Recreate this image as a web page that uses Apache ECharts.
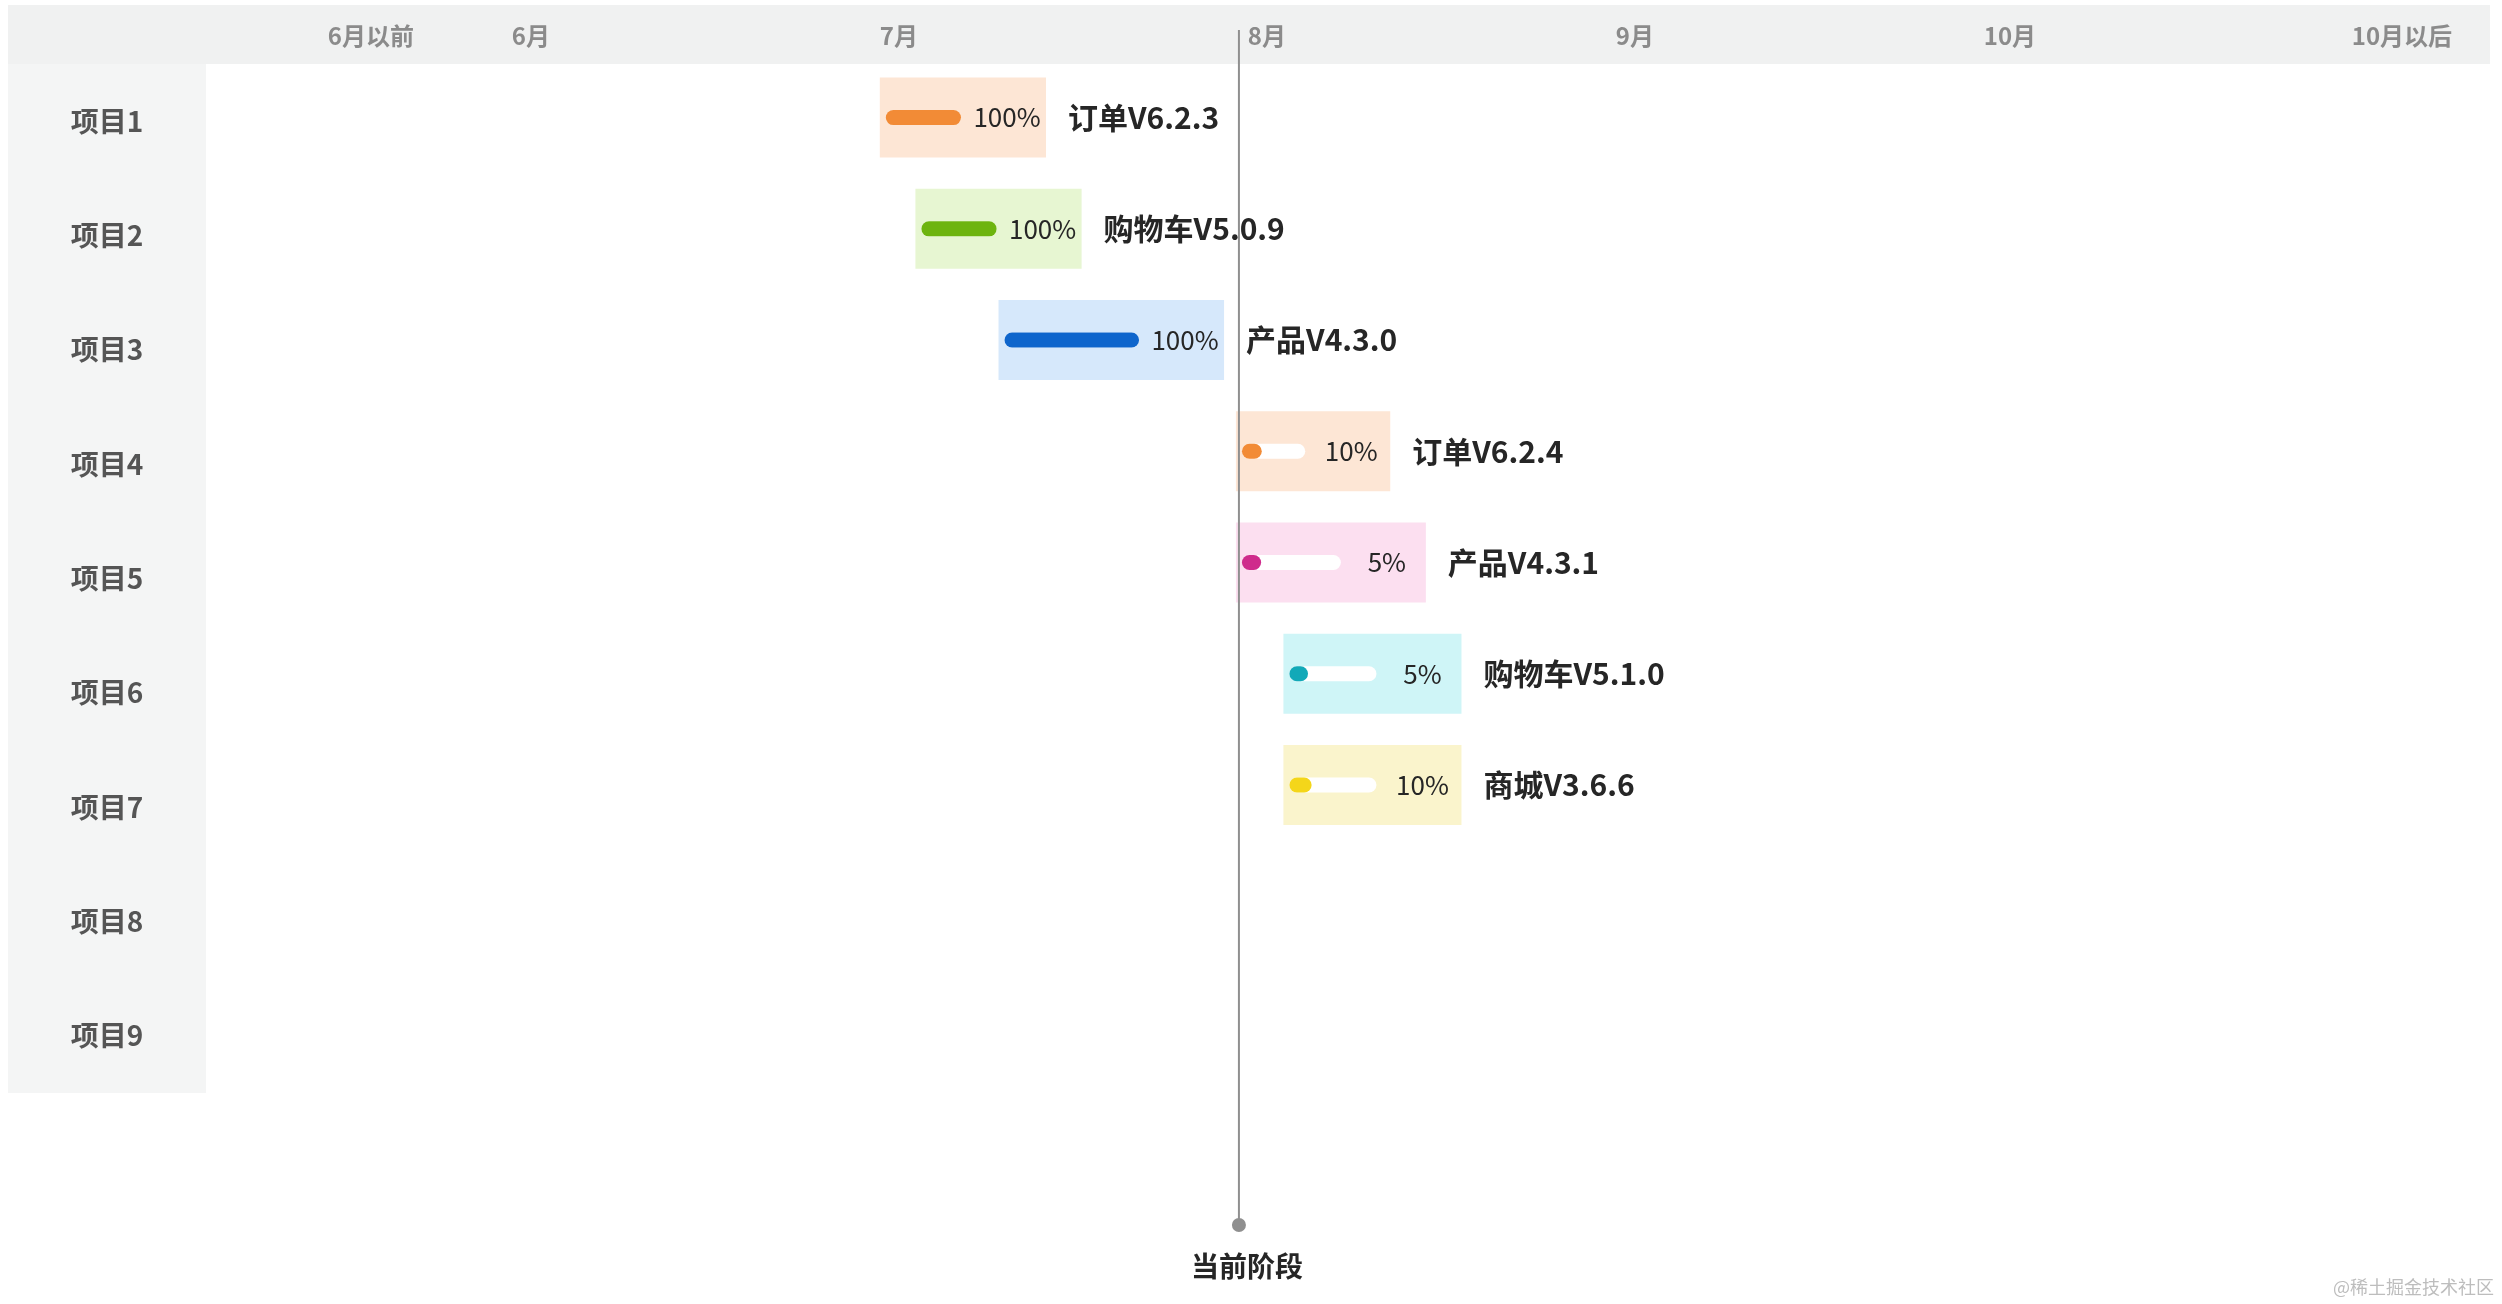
<!DOCTYPE html>
<html>
<head>
<meta charset="utf-8">
<title>项目排期</title>
<script src="https://cdn.jsdelivr.net/npm/echarts@6/dist/echarts.min.js"></script>
<style>
  html, body { margin: 0; padding: 0; background: #fff; }
  #chart { width: 2502px; height: 1304px; }
</style>
</head>
<body>
<div id="chart"></div>
<script>
const rows = ['项目1', '项目2', '项目3', '项目4', '项目5', '项目6', '项目7', '项目8', '项目9'];

// month axis: each month has the same width, 5.5 = middle of May
const monthTicks = [5.5, 6, 7, 8, 9, 10, 11];
const monthLabels = ['6月以前', '6月', '7月', '8月', '9月', '10月', '10月以后'];
const daysInMonth = { 5: 31, 6: 30, 7: 31, 8: 31, 9: 30, 10: 31, 11: 30 };

const taskNames = ['订单V6.2.3', '购物车V5.0.9', '产品V4.3.0', '订单V6.2.4', '产品V4.3.1', '购物车V5.1.0', '商城V3.6.6'];
const taskRows = [0, 1, 2, 3, 4, 5, 6];
const taskStart = ['07-01', '07-04', '07-11', '07-31', '07-31', '08-04', '08-04'];
const taskEnd = ['07-15', '07-18', '07-30', '08-13', '08-16', '08-19', '08-19'];
const taskProgress = [100, 100, 100, 10, 5, 5, 10];
const taskColors = ['#f28b36', '#6db40f', '#0e65cc', '#f28b36', '#cf2b8c', '#12a9b8', '#f4d61a'];
const taskBgColors = ['#fde6d5', '#e7f6d2', '#d6e8fb', '#fde6d5', '#fcdff0', '#cff5f7', '#faf4cc'];

const today = '07-31';
const todayLabel = '当前阶段';

const FONT = '"Noto Sans CJK SC", "Noto Sans", sans-serif';

function toMonthPos(md) {
  const [m, d] = md.split('-').map(Number);
  return m + (d - 1) / daysInMonth[m];
}

const taskData = taskNames.map((name, i) => [
  toMonthPos(taskStart[i]),
  toMonthPos(taskEnd[i]),
  taskRows[i],
  taskProgress[i],
  name
]);

function renderTask(params, api) {
  const i = params.dataIndex;
  const start = api.coord([api.value(0), api.value(2)]);
  const end = api.coord([api.value(1), api.value(2)]);
  const x0 = start[0];
  const x1 = end[0];
  const cy = start[1];
  const h = 80;
  const trackH = 15;
  const trackL = x0 + 6;
  const trackR = x1 - 85;
  const tw = trackR - trackL;
  const pct = api.value(3);
  const fillW = pct >= 100 ? tw : trackH + pct / 100 * (tw - trackH);

  return {
    type: 'group',
    children: [
      {
        type: 'rect',
        shape: { x: x0, y: cy - h / 2, width: x1 - x0, height: h },
        style: { fill: taskBgColors[i] }
      },
      {
        type: 'rect',
        shape: { x: trackL, y: cy - trackH / 2, width: tw, height: trackH, r: trackH / 2 },
        style: { fill: '#ffffff' }
      },
      {
        type: 'rect',
        shape: { x: trackL, y: cy - trackH / 2, width: fillW, height: trackH, r: trackH / 2 },
        style: { fill: taskColors[i] }
      },
      {
        type: 'text',
        style: {
          text: pct + '%',
          x: trackR + 46,
          y: cy,
          align: 'center',
          verticalAlign: 'middle',
          fontSize: 26,
          fontFamily: FONT,
          fill: '#262626'
        }
      },
      {
        type: 'text',
        style: {
          text: api.value(4),
          x: x1 + 22,
          y: cy,
          align: 'left',
          verticalAlign: 'middle',
          fontSize: 30,
          fontWeight: 'bold',
          fontFamily: FONT,
          fill: '#262626'
        }
      }
    ]
  };
}

function renderToday(params, api) {
  const x = api.coord([api.value(0), 0])[0] + 3;
  return {
    type: 'group',
    children: [
      {
        type: 'line',
        shape: { x1: x, y1: 30, x2: x, y2: 1225 },
        style: { stroke: '#8f8f8f', lineWidth: 2 }
      },
      {
        type: 'circle',
        shape: { cx: x, cy: 1225, r: 7 },
        style: { fill: '#8f8f8f' }
      },
      {
        type: 'text',
        style: {
          text: todayLabel,
          x: x + 8,
          y: 1266,
          align: 'center',
          verticalAlign: 'middle',
          fontSize: 28,
          fontWeight: 'bold',
          fontFamily: FONT,
          fill: '#262626'
        }
      }
    ]
  };
}

const xMin = 5.15;
const xMax = 11.4;

const option = {
  animation: false,
  textStyle: { fontFamily: FONT },
  graphic: [
    {
      type: 'rect',
      z: -10,
      shape: { x: 8, y: 5, width: 2482, height: 59 },
      style: { fill: '#f0f1f1' }
    },
    {
      type: 'rect',
      z: -10,
      shape: { x: 8, y: 64, width: 198, height: 1029 },
      style: { fill: '#f4f5f5' }
    },
    {
      type: 'text',
      right: 8,
      bottom: 8,
      style: {
        text: '@稀土掘金技术社区',
        fontSize: 18,
        fontFamily: FONT,
        fill: '#bdbdbd'
      }
    }
  ],
  grid: [
    // row labels + month header
    { left: 199, right: 3, top: 64, bottom: 211 },
    // task bars
    { left: 199, right: 3, top: 62, bottom: 241 }
  ],
  xAxis: [
    {
      type: 'value',
      gridIndex: 0,
      position: 'top',
      min: xMin,
      max: xMax,
      axisLine: { show: false },
      axisTick: { show: false },
      splitLine: { show: false },
      axisLabel: {
        customValues: monthTicks,
        formatter: (v) => {
          const k = monthTicks.indexOf(v);
          return k >= 0 ? monthLabels[k] : '';
        },
        align: 'left',
        verticalAlign: 'middle',
        margin: 28,
        fontSize: 24,
        fontWeight: 'bold',
        color: '#8b8b8b'
      }
    },
    {
      type: 'value',
      gridIndex: 1,
      min: xMin,
      max: xMax,
      show: false
    }
  ],
  yAxis: [
    {
      type: 'category',
      gridIndex: 0,
      inverse: true,
      data: rows,
      axisLine: { show: false },
      axisTick: { show: false },
      splitLine: { show: false },
      axisLabel: {
        align: 'center',
        margin: 92,
        fontSize: 28,
        fontWeight: 'bold',
        color: '#555555'
      }
    },
    {
      type: 'category',
      gridIndex: 1,
      inverse: true,
      data: rows,
      show: false
    }
  ],
  series: [
    {
      type: 'custom',
      xAxisIndex: 1,
      yAxisIndex: 1,
      renderItem: renderTask,
      encode: { x: [0, 1], y: 2 },
      data: taskData
    },
    {
      type: 'custom',
      xAxisIndex: 1,
      yAxisIndex: 1,
      renderItem: renderToday,
      encode: { x: 0 },
      z: 5,
      data: [[toMonthPos(today)]]
    }
  ]
};

const chart = echarts.init(document.getElementById('chart'));
chart.setOption(option);
window.addEventListener('resize', () => chart.resize());
</script>
</body>
</html>
